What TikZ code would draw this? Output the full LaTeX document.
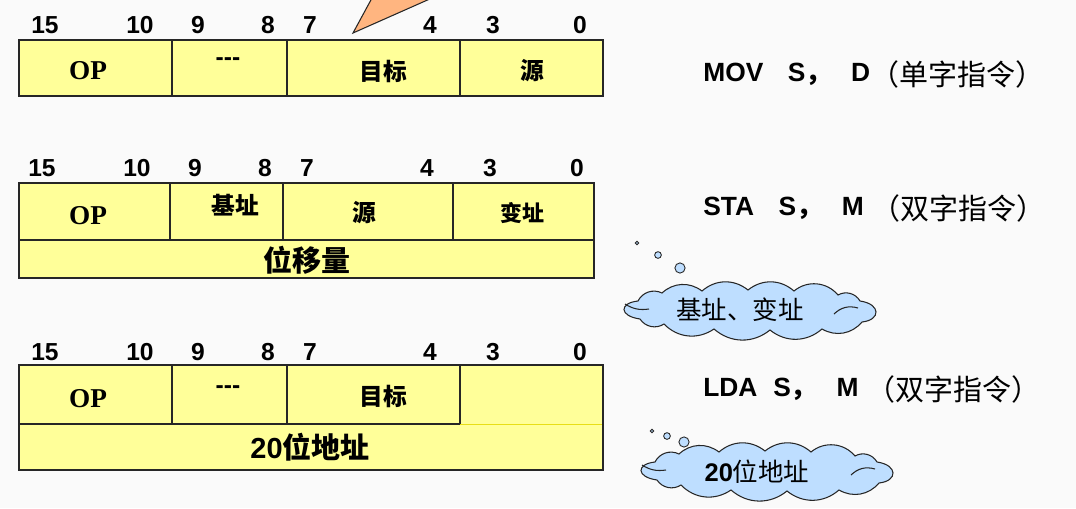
\documentclass[tikz,border=0pt]{standalone}
\usepackage{fontspec}
\setmainfont{Liberation Sans}
\newfontfamily\cjk{Noto Sans CJK SC}
\newfontfamily\tnr{Liberation Serif}
\usepackage{xcolor}
\definecolor{cellyellow}{RGB}{255,255,153}
\definecolor{cloudblue}{RGB}{190,222,255}
\definecolor{callorange}{RGB}{255,181,128}
\definecolor{pagegray}{RGB}{250,250,250}
\usepackage{tikz}

\tikzset{
  cell/.style={draw=black!85, line width=0.7pt},
  bitnum/.style={font=\fontsize{14}{14}\selectfont\bfseries},
  optext/.style={font=\fontsize{15.5}{15.5}\selectfont\tnr\bfseries},
  fieldtext/.style={font=\fontsize{13.5}{13.5}\selectfont\cjk\bfseries},
  bigtext/.style={font=\fontsize{16.5}{16.5}\selectfont\cjk\bfseries},
  insn/.style={font=\fontsize{15}{15}\selectfont\bfseries, anchor=west, inner sep=0pt},
  zh/.style={font=\fontsize{16.5}{16.5}\selectfont\cjk, anchor=west, inner sep=0pt},
  bubble/.style={draw=black!85, fill=cloudblue, line width=0.5pt},
  puffline/.style={draw=black!85, line width=0.6pt},
  cloudtext/.style={font=\fontsize{14.5}{14.5}\selectfont\cjk},
}

% bit numbers above a row: #1 = y, #2 = x shift, #3 = row name
\newcommand{\bitrow}[3]{%
  \foreach \b/\x in {15/45, 10/140, 9/198, 8/268, 7/310, 4/430, 3/493, 0/580}
    \node[bitnum] (#3-\b) at ({\x+#2},#1) {\b};%
}

% thought cloud around the current origin (about 256 x 55)
\newcommand{\thinkcloud}{%
  \filldraw[bubble, line width=0.6pt]
    (-112,-9) to[bend left=45] (-88,-17) to[bend left=40] (-48,-19)
    to[bend left=40] (-2,-20) to[bend left=40] (44,-19) to[bend left=45] (88,-15)
    to[bend left=45] (110,-9) .. controls (131,-6) and (131,10) .. (112,12)
    to[bend left=40] (72,19) to[bend left=40] (20,20) to[bend left=40] (-36,19)
    to[bend left=40] (-86,14) to[bend left=45] (-110,9)
    .. controls (-131,6) and (-131,-7) .. (-112,-9) -- cycle;
  \draw[puffline] (-125,-6) to[bend right=20] (-101,-1);
  \draw[puffline] (84,4) to[bend left=30] (108,-2);
}

\begin{document}
\begin{tikzpicture}[x=0.02cm, y=-0.02cm]
  % page
  \fill[pagegray] (0,0) rectangle (1076,508);
  \useasboundingbox (0,0) rectangle (1076,508);

  % --- callout tip at the top ---
  \fill[callorange] (372,-2) -- (353,33) -- (432,-2) -- cycle;
  \draw[black!85, line width=0.6pt] (372,-2) -- (353,33) -- (432,-2);

  % --- Row 1: MOV ---
  \bitrow{25}{0}{mov}
  \fill[cellyellow] (19,40) rectangle (603,96);
  \draw[cell] (19,40) rectangle (603,96);
  \draw[cell] (172,40) -- (172,96) (287,40) -- (287,96) (460,40) -- (460,96);
  \node[optext] (movop) at (88,71) {OP};
  \node[font=\fontsize{14}{14}\selectfont\bfseries] (movpad) at (228,62) {-{}-{}-};
  \node[fieldtext] (movdst) at (383,71) {目标};
  \node[fieldtext] (movsrc) at (532,71) {源};
  \node[insn] (movtxt) at (703,74) {MOV\hspace*{14pt}S{\cjk ，}\hspace*{11pt}D};
  \node[zh] (movnote) at (movtxt.east) {（单字指令）};

  % --- Row 2: STA ---
  \bitrow{168}{-3}{sta}
  \fill[cellyellow] (19,183) rectangle (594,278);
  \draw[cell] (19,183) rectangle (594,278);
  \draw[cell] (19,240) -- (594,240);
  \draw[cell] (170,183) -- (170,240) (283,183) -- (283,240) (453,183) -- (453,240);
  \node[optext] (staop) at (88,216) {OP};
  \node[fieldtext] (stabase) at (235,205) {基址};
  \node[fieldtext] (stasrc) at (364,213) {源};
  \node[fieldtext, font=\fontsize{12.5}{12.5}\selectfont\cjk\bfseries] (staidx) at (522,213) {变址};
  \node[bigtext] (stadisp) at (307,260) {位移量};
  \node[insn] (statxt) at (703,208) {STA\hspace*{14pt}S{\cjk ，}\hspace*{11pt}M\hspace*{4pt}};
  \node[zh] (stanote) at (statxt.east) {（双字指令）};

  % --- Row 3: LDA ---
  \bitrow{352}{0}{lda}
  \fill[cellyellow] (19,365) rectangle (603,470);
  \draw[yellow!90!black, line width=0.5pt] (460,424) -- (603,424);
  \draw[cell] (19,365) rectangle (603,470);
  \draw[cell] (19,424) -- (460,424);
  \draw[cell] (172,365) -- (172,424) (287,365) -- (287,424) (460,365) -- (460,424);
  \node[optext] (ldaop) at (88,399) {OP};
  \node[font=\fontsize{14}{14}\selectfont\bfseries] (ldapad) at (228,390) {-{}-{}-};
  \node[fieldtext] (ldadst) at (383,396) {目标};
  \node[bigtext] (ldaaddr) at (310,447) {{\rmfamily 20}位地址};
  \node[insn] (ldatxt) at (703,389) {LDA\hspace*{9pt}S{\cjk ，}\hspace*{11pt}M\hspace*{4pt}};
  \node[zh] (ldanote) at (ldatxt.east) {（双字指令）};

  % --- thought clouds ---
  \draw[bubble] (637,243) circle[radius=1pt];
  \draw[bubble] (658,255) circle[radius=1.9pt];
  \draw[bubble] (680,268) circle[radius=2.9pt];
  \begin{scope}[shift={(750,310)}]
    \thinkcloud
  \end{scope}
  \node[cloudtext] (regtext) at (740,310) {基址、变址};

  \draw[bubble] (652,431) circle[radius=1pt];
  \draw[bubble] (667,436) circle[radius=1.9pt];
  \draw[bubble] (684,442) circle[radius=2.9pt];
  \begin{scope}[shift={(767,471)}]
    \thinkcloud
  \end{scope}
  \node[cloudtext] (addrtext) at (757,472) {{\bfseries\rmfamily 20}位地址};
\end{tikzpicture}
\end{document}
